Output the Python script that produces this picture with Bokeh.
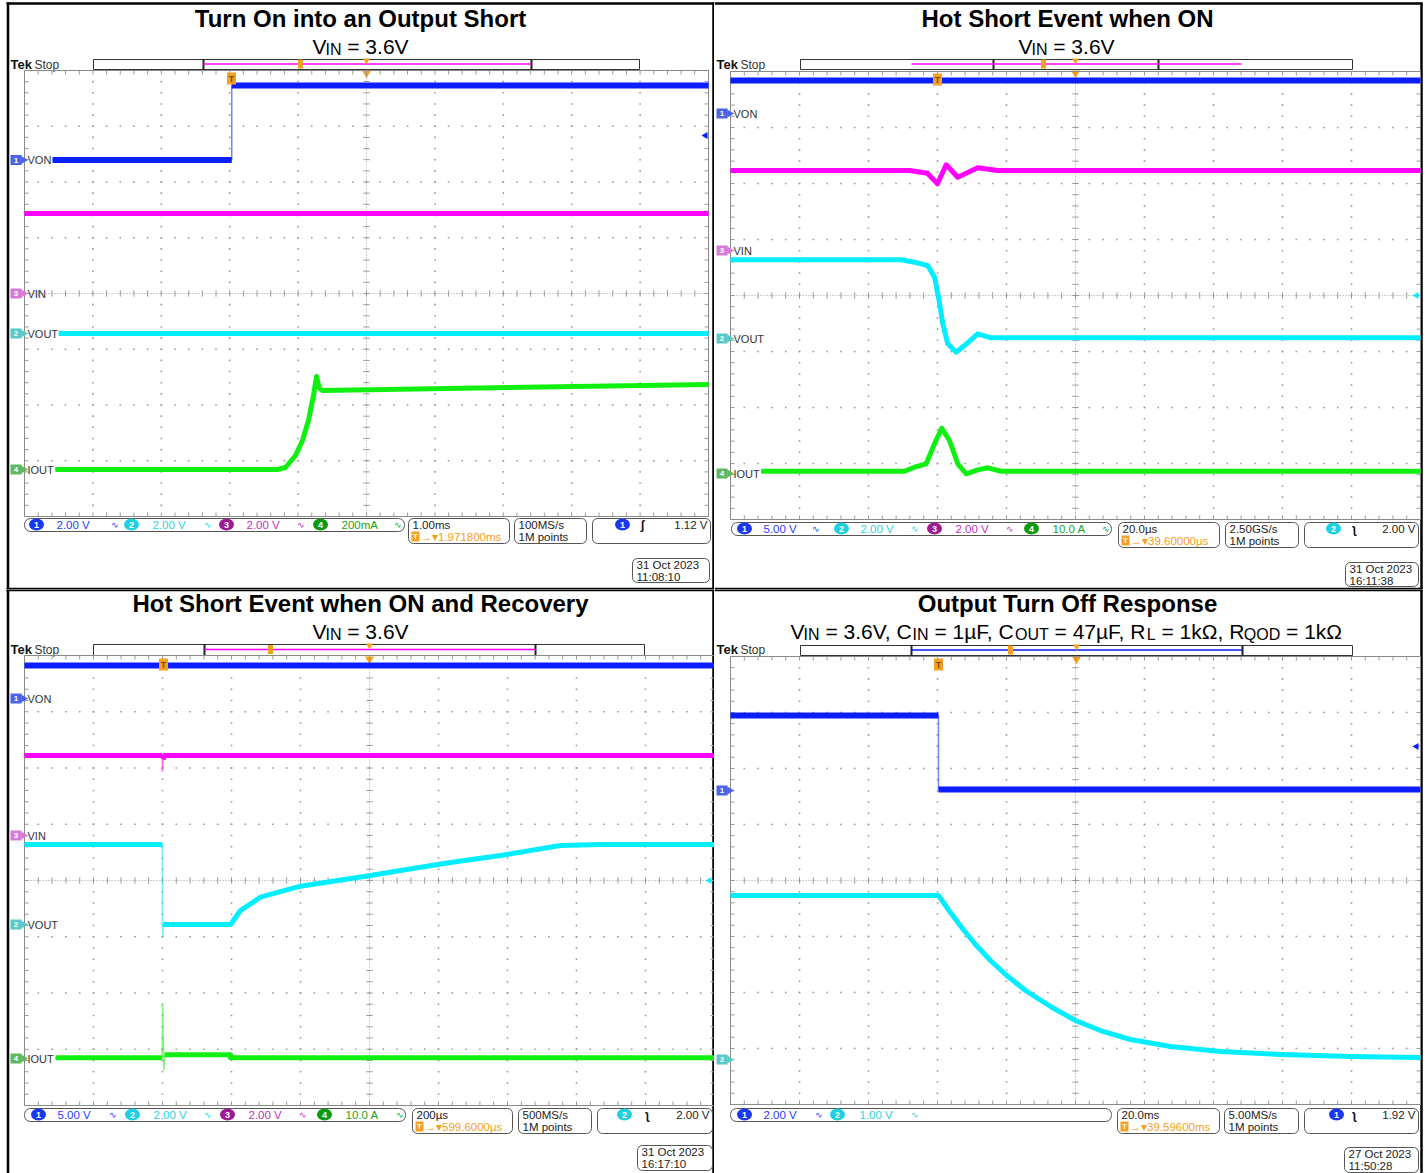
import numpy as np
from bokeh.plotting import figure
from bokeh.layouts import column, row
from bokeh.models import Range1d
from bokeh.core.properties import value
from bokeh.embed import file_html
from bokeh.resources import INLINE

# ---------------- waveform data, in screen divisions (t: 0..10 div, v: -4..4 div) ----------------
# Panel 1: Turn On into an Output Short
p1_von_t = [0.41, 3.03, 3.03, 10.0]
p1_von_v = [2.395, 2.395, 3.731, 3.731]
p1_vin_t = [0.0, 10.0]
p1_vin_v = [1.435, 1.435]
p1_vout_t = [0.50, 10.0]
p1_vout_v = [-0.717, -0.717]
p1_iout_t = [0.45, 3.70, 3.816, 3.962, 4.064, 4.152, 4.225, 4.269, 4.313, 4.357, 10.0]
p1_iout_v = [-3.157, -3.157, -3.121, -2.906, -2.637, -2.278, -1.830, -1.489, -1.704, -1.740, -1.632]

# Panel 2: Hot Short Event when ON
p2_von_t = [0.0, 10.0]
p2_von_v = [3.839, 3.839]
p2_vin_t = [0.0, 2.594, 2.855, 3.000, 3.126, 3.294, 3.584, 3.870, 10.0]
p2_vin_v = [2.232, 2.232, 2.184, 1.995, 2.334, 2.113, 2.280, 2.232, 2.232]
p2_vout_t = [0.0, 2.474, 2.667, 2.859, 2.957, 3.014, 3.077, 3.149, 3.271, 3.391, 3.584, 3.778, 10.0]
p2_vout_v = [0.638, 0.638, 0.595, 0.536, 0.327, -0.030, -0.505, -0.863, -1.013, -0.893, -0.684, -0.755, -0.755]
p2_iout_t = [0.445, 2.522, 2.667, 2.836, 2.957, 3.062, 3.174, 3.294, 3.416, 3.584, 3.729, 3.923, 10.0]
p2_iout_v = [-3.138, -3.138, -3.066, -3.005, -2.648, -2.370, -2.589, -3.005, -3.184, -3.113, -3.077, -3.138, -3.138]

# Panel 3: Hot Short Event when ON and Recovery
p3_von_t = [0.0, 10.0]
p3_von_v = [3.822, 3.822]
p3_vin_t = [0.0, 1.995, 2.0, 2.01, 2.03, 10.0]
p3_vin_v = [2.222, 2.222, 1.93, 2.15, 2.222, 2.222]
p3_vout_t = [0.0, 1.996, 1.996, 2.01, 2.01, 2.043, 2.986, 3.130, 3.420, 4.0, 5.014, 5.449, 6.174, 6.899, 7.768, 8.348, 10.0]
p3_vout_v = [0.64, 0.64, -0.77, -1.008, -0.782, -0.782, -0.782, -0.533, -0.297, -0.101, 0.089, 0.178, 0.32, 0.444, 0.622, 0.64, 0.64]
p3_iout_t = [0.449, 1.996, 2.0, 2.02, 2.03, 2.986, 2.986, 10.0]
p3_iout_v = [-3.152, -3.152, -2.193, -3.378, -3.099, -3.099, -3.152, -3.152]

# Panel 4: Output Turn Off Response
p4_ch1_t = [0.0, 3.014, 3.014, 10.0]
p4_ch1_v = [2.946, 2.946, 1.625, 1.625]
p4_ch2_t = [0.0, 3.014, 3.188, 3.362, 3.551, 3.768, 3.986, 4.275, 4.638, 5.0, 5.362, 5.797, 6.377, 7.101, 7.971, 8.986, 10.0]
p4_ch2_v = [-0.268, -0.268, -0.571, -0.857, -1.143, -1.429, -1.679, -1.964, -2.25, -2.5, -2.679, -2.839, -2.964, -3.054, -3.107, -3.143, -3.161]

# ---------------- styles ----------------
FONT = "Liberation Sans"
CH = {1: "#0a1eff", 2: "#00eeff", 3: "#ff00ff", 4: "#10f010"}
ST = {1: "#1f3cff", 2: "#2ad4e0", 3: "#c030c0", 4: "#1aa51a"}
CF = {1: "#1a38f0", 2: "#20d0e0", 3: "#9c1a96", 4: "#0e9a0e"}
TG = {1: "#4a63e8", 2: "#58c8c8", 3: "#d67ad6", 4: "#5fb85f"}
ORANGE = "#f5a020"
GRID = "#9a9a9a"
SF = 11.5  # status font size

AW = {'V': 667, 'I': 278, 'N': 722, ' ': 278, '=': 584, '3': 556, '.': 278, '6': 556, ',': 278,
      'C': 722, '1': 556, 'µ': 576, 'F': 611, 'O': 778, 'U': 722, 'T': 611, '4': 556, '7': 556,
      'R': 722, 'L': 556, 'k': 500, 'Ω': 768, 'Q': 778, 'D': 722}


def twidth(s, size):
    return sum(AW.get(ch, 556) for ch in s) / 1000.0 * size


class Panel:
    def __init__(self, fx, fy, W, H, gx0, gx1, gyc, gdh):
        self.gx0 = gx0
        self.dw = (gx1 - gx0) / 10.0
        self.gyc = gyc
        self.dh = gdh
        p = figure(width=W, height=H,
                   x_range=Range1d(self.X(fx), self.X(fx + W)),
                   y_range=Range1d(self.Y(fy + H), self.Y(fy)),
                   output_backend="svg", toolbar_location=None,
                   x_axis_location=None, y_axis_location=None,
                   min_border=0, title=None)
        p.outline_line_color = None
        p.grid.visible = False
        p.background_fill_color = "white"
        p.border_fill_color = "white"
        self.p = p

    def X(self, px):
        return (px - self.gx0) / self.dw

    def Y(self, py):
        return (self.gyc - py) / self.dh

    # ---- primitives (chrome positions given in page pixels) ----
    def text(self, px, py, s, size, color, bold=False, align="left", baseline="middle"):
        self.p.text(x=[self.X(px)], y=[self.Y(py)], text=[s], text_font=value(FONT),
                    text_font_size=f"{size}px", text_color=color, text_align=align,
                    text_baseline=baseline, text_font_style="bold" if bold else "normal")

    def box(self, x0, x1, y0, y1, color="#444", width=1, radius=0, fill=None):
        self.p.quad(left=[self.X(x0)], right=[self.X(x1)], top=[self.Y(y0)], bottom=[self.Y(y1)],
                    fill_color=fill if fill else "white", fill_alpha=1 if fill else 0,
                    line_color=color, line_width=width, border_radius=radius)

    def seg(self, x0, y0, x1, y1, color, width):
        self.p.segment(x0=[self.X(x0)], y0=[self.Y(y0)], x1=[self.X(x1)], y1=[self.Y(y1)],
                       line_color=color, line_width=width)

    def srect(self, px, py, w, h, color):
        self.p.rect(x=[self.X(px)], y=[self.Y(py)], width=w, height=h, width_units="screen",
                    height_units="screen", fill_color=color, line_color=None)

    def tri(self, px, py, size, color, angle):
        self.p.scatter(x=[self.X(px)], y=[self.Y(py)], marker="triangle", size=size, angle=angle,
                       fill_color=color, line_color=None)

    # ---- chrome ----
    def borders(self, left=None, right=None, top=None, bottom=None, y0=None, y1=None, x0=None, x1=None):
        c = "#000000"
        if left is not None:
            self.seg(left, y0, left, y1, c, 2.5)
        if right is not None:
            self.seg(right, y0, right, y1, c, 2.5)
        if top is not None:
            self.seg(x0, top, x1, top, c, 2.5)
        if bottom is not None:
            self.seg(x0, bottom, x1, bottom, c, 2.5)

    def title(self, s, cx, base):
        self.text(cx, base - 0.36 * 24, s, 24, "#000000", bold=True, align="center")

    def subtitle(self, pieces, cx, base):
        kern = 1.0
        total = sum(twidth(s, 16 if sub else 21) for s, sub in pieces) - kern * sum(1 for _, sub in pieces if sub)
        x = cx - total / 2.0
        for s, sub in pieces:
            size = 16 if sub else 21
            if sub:
                x -= kern
            lead = len(s) - len(s.lstrip(" "))
            xs = x + twidth(" " * lead, size)
            body = s.strip(" ")
            ym = base + (1 if sub else 0) - 0.36 * size
            if body:
                self.text(xs, ym, body, size, "#000000", align="left")
            x += twidth(s, size)

    def tek(self, x, mid):
        self.text(x, mid, "Tek", 13, "#111111", bold=True)
        self.text(x + 24, mid, "Stop", 12, "#333333")

    def recbar(self, x0, x1, y0, y1, ix0, ix1, lx0, lx1, lcolor, tmark, cx):
        self.box(x0, x1, y0, y1, "#333333", 1)
        self.seg(ix0, y0, ix0, y1, "#222222", 2)
        self.seg(ix1, y0, ix1, y1, "#222222", 2)
        ym = (y0 + y1) / 2.0 - 0.5
        self.seg(lx0, ym, lx1, ym, lcolor, 1.5)
        self.srect(tmark, ym, 5, 9, ORANGE)
        self.tri(cx, y0 + 1, 7, ORANGE, np.pi)
        self.tri(cx, y1 + 3.5, 9, ORANGE, np.pi)

    def graticule(self):
        p = self.p
        mx = np.round(np.arange(0, 10.0001, 0.2), 3)
        my = np.round(np.arange(-4, 4.0001, 0.2), 3)
        tx = 4.0 / self.dw
        ty = 4.0 / self.dh
        gx, gy = [], []
        for xv in [1, 2, 3, 4, 6, 7, 8, 9]:
            for yv in my[1:-1]:
                gx.append(xv)
                gy.append(yv)
        for yv in [-3, -2, -1, 1, 2, 3]:
            for xv in mx[1:-1]:
                gx.append(xv)
                gy.append(yv)
        p.scatter(x=gx, y=gy, marker="square", size=1.6, fill_color=GRID, line_color=None)
        p.line([0, 10], [0, 0], line_color=GRID, line_width=1, line_dash="1 2")
        p.line([5, 5], [-4, 4], line_color=GRID, line_width=1, line_dash="1 2")
        p.segment(x0=mx, y0=-ty * 0.8, x1=mx, y1=ty * 0.8, line_color=GRID, line_width=1)
        p.segment(x0=5 - tx * 0.8, y0=my, x1=5 + tx * 0.8, y1=my, line_color=GRID, line_width=1)
        p.segment(x0=mx, y0=4, x1=mx, y1=4 - ty, line_color=GRID, line_width=1)
        p.segment(x0=mx, y0=-4, x1=mx, y1=-4 + ty, line_color=GRID, line_width=1)
        p.segment(x0=0, y0=my, x1=tx, y1=my, line_color=GRID, line_width=1)
        p.segment(x0=10, y0=my, x1=10 - tx, y1=my, line_color=GRID, line_width=1)
        p.quad(left=[0], right=[10], bottom=[-4], top=[4], fill_alpha=0, line_color="#8a8a8a", line_width=1)

    def trace(self, t, v, color, width=5.5):
        t = np.asarray(t, float)
        v = np.asarray(v, float)
        self.p.line(t, v, line_color=color, line_width=1.5, line_alpha=0.55)
        runs, cur = [], [0]
        for i in range(len(t) - 1):
            dxp = abs(t[i + 1] - t[i]) * self.dw
            dyp = abs(v[i + 1] - v[i]) * self.dh
            if dyp > 3 and dyp > 8 * dxp:
                if len(cur) > 1:
                    runs.append(cur)
                cur = [i + 1]
            else:
                cur.append(i + 1)
        if len(cur) > 1:
            runs.append(cur)
        self.p.multi_line([list(t[r]) for r in runs], [list(v[r]) for r in runs],
                          line_color=color, line_width=width, line_join="round")

    def trigT(self, px, py):
        self.srect(px, py, 9, 12, ORANGE)
        self.text(px, py, "T", 9, "#7a4a00", bold=True, align="center")

    def tag(self, py, ch, label, tagx):
        cx = tagx + 5.5
        self.srect(cx, py, 11, 10, TG[ch])
        self.tri(tagx + 13, py, 8, TG[ch], -np.pi / 2)
        self.text(cx, py, str(ch), 8, "#ffffff", bold=True, align="center")
        if label:
            self.text(tagx + 17, py, label, 11, "#333333")

    def arrow(self, px, py, ch):
        self.tri(px, py, 7, CH[ch], np.pi / 2)

    def chcircle(self, px, py, ch):
        self.p.ellipse(x=[self.X(px)], y=[self.Y(py)], width=15, height=12, width_units="screen",
                       height_units="screen", fill_color=CF[ch], line_color=None)
        self.text(px, py, str(ch), 9, "#ffffff", bold=True, align="center")

    def status(self, box1, chans, box2, tb, tpos, box3, r1, r2, box4, tch, cx4, slope, sx4, lvl, date, d1, d2):
        self.box(*box1, color="#555555", width=1, radius=6)
        ym = (box1[2] + box1[3]) / 2.0 - 0.5
        for ch, cxc, tx, ix, lab in chans:
            self.chcircle(cxc, ym, ch)
            self.text(tx, ym, lab, SF, ST[ch])
            self.text(ix, ym, "∿", 9, ST[ch], align="center")
        self.box(*box2, color="#555555", width=1, radius=5)
        r1y = box2[2] + 6
        r2y = box2[2] + 18
        self.text(box2[0] + 4, r1y, tb, SF, "#222222")
        self.srect(box2[0] + 7, r2y, 8, 10, ORANGE)
        self.text(box2[0] + 7, r2y, "T", 8, "#ffffff", bold=True, align="center")
        self.text(box2[0] + 12, r2y, "→▾" + tpos, SF, ORANGE)
        self.box(*box3, color="#555555", width=1, radius=5)
        self.text(box3[0] + 4, r1y, r1, SF, "#222222")
        self.text(box3[0] + 4, r2y, r2, SF, "#222222")
        self.box(*box4, color="#555555", width=1, radius=5)
        self.chcircle(cx4, r1y, tch)
        self.text(sx4, r1y, "ʃ" if slope == "rise" else "ʅ", 12, "#111111", bold=True, align="center")
        self.text(box4[1] - 3, r1y, lvl, SF, "#222222", align="right")
        self.box(*date, color="#555555", width=1, radius=5)
        self.text(date[0] + 4, date[2] + 6, d1, SF, "#222222")
        self.text(date[0] + 4, date[2] + 18, d2, SF, "#222222")


VIN_SUB = [("V", 0), ("IN", 1), (" = 3.6V", 0)]
BR_SUB = [("V", 0), ("IN", 1), (" = 3.6V, C", 0), ("IN", 1), (" = 1µF, C", 0), ("OUT", 1),
          (" = 47µF, R", 0), ("L", 1), (" = 1kΩ, R", 0), ("QOD", 1), (" = 1kΩ", 0)]

# ---------------- panel 1 (top left) ----------------
a = Panel(0, 0, 714, 589, 24, 708, 293, 55.75)
a.borders(left=7.5, right=713, top=3, bottom=588.5, y0=2, y1=589, x0=6, x1=714)
a.title("Turn On into an Output Short", 360, 27)
a.subtitle(VIN_SUB, 360, 54)
a.tek(10, 64)
a.recbar(93, 639, 59, 69, 203, 531, 203, 531, CH[3], 300, 366)
a.graticule()
a.trace(p1_von_t, p1_von_v, CH[1], 6)
a.trace(p1_vin_t, p1_vin_v, CH[3], 5)
a.trace(p1_vout_t, p1_vout_v, CH[2], 5)
a.trace(p1_iout_t, p1_iout_v, CH[4], 5)
a.trigT(231, 78)
for y, ch, lab in [(159.5, 1, "VON"), (293, 3, "VIN"), (333, 2, "VOUT"), (469, 4, "IOUT")]:
    a.tag(y, ch, lab, 10)
a.arrow(705, 135, 1)
a.status((24, 404, 518, 531),
         [(1, 36, 56, 114, "2.00 V"), (2, 131, 152, 207, "2.00 V"), (3, 226, 246, 300, "2.00 V"), (4, 320, 341, 397, "200mA")],
         (408, 509, 518, 543), "1.00ms", "1.971800ms",
         (514, 586, 518, 543), "100MS/s", "1M points",
         (592, 710, 518, 543), 1, 622, "rise", 642, "1.12 V",
         (632, 709, 558, 582), "31 Oct  2023", "11:08:10")

# ---------------- panel 2 (top right) ----------------
b = Panel(714, 0, 714, 589, 730, 1420, 295, 56)
b.borders(right=1421, top=3, bottom=588.5, y0=2, y1=589, x0=714, x1=1422)
b.title("Hot Short Event when ON", 1067, 27)
b.subtitle(VIN_SUB, 1066, 54)
b.tek(716, 64)
b.recbar(800, 1352, 59, 69, 993, 1158, 911, 1241, CH[3], 1043, 1075)
b.graticule()
b.trace(p2_von_t, p2_von_v, CH[1], 6)
b.trace(p2_vin_t, p2_vin_v, CH[3], 5)
b.trace(p2_vout_t, p2_vout_v, CH[2], 5)
b.trace(p2_iout_t, p2_iout_v, CH[4], 5)
b.trigT(937, 79)
for y, ch, lab in [(113, 1, "VON"), (250, 3, "VIN"), (338, 2, "VOUT"), (473, 4, "IOUT")]:
    b.tag(y, ch, lab, 716)
b.arrow(1416, 295, 2)
b.status((731, 1111, 522, 535),
         [(1, 744, 763, 815, "5.00 V"), (2, 841, 860, 914, "2.00 V"), (3, 934, 955, 1009, "2.00 V"), (4, 1031, 1052, 1105, "10.0 A")],
         (1118, 1219, 522, 547), "20.0µs", "39.60000µs",
         (1225, 1298, 522, 547), "2.50GS/s", "1M points",
         (1304, 1418, 522, 547), 2, 1333, "fall", 1354, "2.00 V",
         (1345, 1418, 562, 586), "31 Oct  2023", "16:11:38")

# ---------------- panel 3 (bottom left) ----------------
c = Panel(0, 589, 714, 584, 24, 714, 880, 56.25)
c.borders(left=7.5, right=713, top=589.5, y0=589, y1=1173, x0=6, x1=714)
c.title("Hot Short Event when ON and Recovery", 360, 612)
c.subtitle(VIN_SUB, 360, 639)
c.tek(10, 649)
c.recbar(93, 644, 644, 655, 204, 535, 204, 535, CH[3], 270, 369)
c.graticule()
c.trace(p3_von_t, p3_von_v, CH[1], 6)
c.trace(p3_vin_t, p3_vin_v, CH[3], 5)
c.trace(p3_vout_t, p3_vout_v, CH[2], 5)
c.trace(p3_iout_t, p3_iout_v, CH[4], 5)
c.trigT(163, 664)
for y, ch, lab in [(698, 1, "VON"), (835, 3, "VIN"), (924, 2, "VOUT"), (1058, 4, "IOUT")]:
    c.tag(y, ch, lab, 10)
c.arrow(709, 880, 2)
c.status((24, 405, 1108, 1121),
         [(1, 38, 57, 112, "5.00 V"), (2, 132, 153, 207, "2.00 V"), (3, 227, 248, 302, "2.00 V"), (4, 324, 345, 399, "10.0 A")],
         (412, 512, 1108, 1133), "200µs", "599.6000µs",
         (518, 591, 1108, 1133), "500MS/s", "1M points",
         (597, 712, 1108, 1133), 2, 624, "fall", 647, "2.00 V",
         (637, 712, 1145, 1170), "31 Oct  2023", "16:17:10")

# ---------------- panel 4 (bottom right) ----------------
d = Panel(714, 589, 714, 584, 730, 1420, 880, 56)
d.borders(right=1421, top=589.5, y0=589, y1=1173, x0=714, x1=1422)
d.title("Output Turn Off Response", 1067, 612)
d.subtitle(BR_SUB, 1066, 639)
d.tek(716, 649)
d.recbar(800, 1352, 645, 655, 911, 1242, 911, 1242, CH[1], 1010, 1076)
d.graticule()
d.trace(p4_ch1_t, p4_ch1_v, CH[1], 6)
d.trace(p4_ch2_t, p4_ch2_v, CH[2], 5)
d.trigT(938, 664)
for y, ch in [(790, 1), (1059, 2)]:
    d.tag(y, ch, "", 716)
d.arrow(1416, 746, 1)
d.status((730, 1111, 1108, 1121),
         [(1, 744, 763, 818, "2.00 V"), (2, 837, 859, 914, "1.00 V")],
         (1117, 1219, 1108, 1133), "20.0ms", "39.59600ms",
         (1224, 1298, 1108, 1133), "5.00MS/s", "1M points",
         (1304, 1418, 1108, 1133), 1, 1336, "fall", 1354, "1.92 V",
         (1344, 1418, 1147, 1172), "27 Oct  2023", "11:50:28")

layout = column(row(a.p, b.p), row(c.p, d.p))
open("out.html", "w").write(file_html(layout, INLINE))
